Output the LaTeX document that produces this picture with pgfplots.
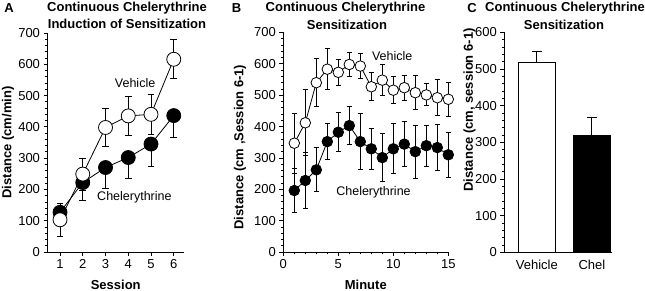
\documentclass[border=0pt]{standalone}
\usepackage{fontspec}
\setmainfont{Liberation Sans}
\usepackage{pgfplots}
\usepackage{pgfplotstable}
\pgfplotsset{compat=1.18}

\pgfplotstableread{
x y e
1 103 52
2 249 51
3 398 60
4 435 63
5 440 64
6 616 62
}\Aveh
\pgfplotstableread{
x y e
1 127 26
2 222 57
3 270 66
4 302 68
5 345 72
6 436 69
}\Achel
\pgfplotstableread{
x y e
1 347 95
2 412 105
3 540 77
4 583 65
5 573 41
6 598 39
7 593 40
8 527 44
9 548 50
10 516 43
11 524 40
12 508 54
13 501 35
14 492 58
15 487 55
}\Bveh
\pgfplotstableread{
x y e
1 196 71
2 228 90
3 262 70
4 352 58
5 382 62
6 403 61
7 352 89
8 329 65
9 301 77
10 329 80
11 344 72
12 320 85
13 339 65
14 333 73
15 310 72
}\Bchel
\pgfplotstableread{
x y e
0 518 31
}\Cveh
\pgfplotstableread{
x y e
1 319 49
}\Cchel

\newcommand\labfont{\fontsize{13}{13}\selectfont\bfseries}
\pgfplotsset{
  panel/.style={
    scale only axis,
    anchor=south west,
    clip=false,
    axis x line*=bottom,
    axis y line*=left,
    axis line style={-, line width=0.8pt},
    tick align=outside,
    tick style={line width=0.8pt, black},
    major tick length=4pt,
    minor tick length=2.5pt,
    ymin=0,
    /pgf/number format/assume math mode=true,
    tick label style={font=\fontsize{13}{13}\selectfont},
  },
  vehstyle/.style={black, line width=0.8pt, mark=*, mark options={fill=white, line width=0.8pt}},
  chelstyle/.style={black, line width=0.8pt, mark=*, mark options={fill=black}},
}

\begin{document}
\begin{tikzpicture}
\useasboundingbox (0,0) rectangle (645pt,291pt);

% Panel A
\begin{axis}[panel,
  at={(47.5pt,39pt)}, width=136.5pt, height=219pt,
  xmin=0.45, xmax=6.45, ymax=700,
  xtick={1,...,6}, ytick={0,100,...,700}, minor y tick num=4,
  xlabel={Session}, ylabel={Distance (cm/min)},
  every axis x label/.style={at={(axis description cs:0.5,-0.151)}, anchor=center, font=\labfont},
  every axis y label/.style={at={(axis description cs:-0.289,0.5)}, rotate=90, anchor=center, font=\labfont},
]
\addplot[chelstyle, mark size=7pt,
  error bars/.cd, y dir=minus, y explicit,
  error bar style={line width=0.9pt},
  error mark options={rotate=90, mark size=3.3pt, line width=0.9pt}]
  table[x=x, y=y, y error=e] {\Achel};
\addplot[vehstyle, mark size=7pt,
  error bars/.cd, y dir=both, y explicit,
  error bar style={line width=0.9pt},
  error mark options={rotate=90, mark size=3.3pt, line width=0.9pt}]
  table[x=x, y=y, y error=e] {\Aveh};
\node[font=\fontsize{12.5}{12.5}\selectfont] at (axis cs:4.30,541) {Vehicle};
\node[font=\fontsize{12.5}{12.5}\selectfont] at (axis cs:4.27,176) {Chelerythrine};
\end{axis}

% Panel B
\begin{axis}[panel,
  at={(283.3pt,39pt)}, width=165pt, height=219.5pt,
  xmin=0, xmax=15, ymax=700,
  xtick={0,5,10,15}, minor x tick num=4,
  ytick={0,100,...,700}, minor y tick num=4,
  xlabel={Minute}, ylabel={Distance (cm ,Session 6-1)},
  every axis x label/.style={at={(axis description cs:0.5,-0.150)}, anchor=center, font=\labfont},
  every axis y label/.style={at={(axis description cs:-0.262,0.478)}, rotate=90, anchor=center, font=\labfont},
]
\addplot[chelstyle, mark size=5.3pt,
  error bars/.cd, y dir=both, y explicit,
  error bar style={line width=0.9pt},
  error mark options={rotate=90, mark size=2.7pt, line width=0.9pt}]
  table[x=x, y=y, y error=e] {\Bchel};
\addplot[vehstyle, mark size=5.3pt,
  error bars/.cd, y dir=both, y explicit,
  error bar style={line width=0.9pt},
  error mark options={rotate=90, mark size=2.7pt, line width=0.9pt}]
  table[x=x, y=y, y error=e] {\Bveh};
\node[font=\fontsize{12.5}{12.5}\selectfont] at (axis cs:9.9,626) {Vehicle};
\node[font=\fontsize{12.5}{12.5}\selectfont] at (axis cs:8.2,189) {Chelerythrine};
\end{axis}

% Panel C
\begin{axis}[panel,
  at={(504.3pt,38.7pt)}, width=107.4pt, height=220pt,
  xmin=-0.59, xmax=1.36, ymax=600,
  xtick={0,1}, xticklabels={Vehicle,Chel},
  x tick style={draw=none},
  ytick={0,100,...,600}, minor y tick num=4,
  ylabel={Distance (cm, session 6-1)},
  every axis y label/.style={at={(axis description cs:-0.325,0.647)}, rotate=90, anchor=center, font=\labfont},
  ybar, bar width=36.7pt,
]
\addplot[draw=black, fill=white, line width=0.8pt, bar shift=0pt,
  error bars/.cd, y dir=plus, y explicit,
  error bar style={line width=0.9pt},
  error mark options={rotate=90, mark size=5pt, line width=0.9pt}]
  table[x=x, y=y, y error=e] {\Cveh};
\addplot[draw=black, fill=black, line width=0.8pt, bar shift=0pt,
  error bars/.cd, y dir=plus, y explicit,
  error bar style={line width=0.9pt},
  error mark options={rotate=90, mark size=5pt, line width=0.9pt}]
  table[x=x, y=y, y error=e] {\Cchel};
\end{axis}

% Titles and panel letters
\begin{scope}[font=\fontsize{13}{13}\selectfont\bfseries]
\node at (9pt,283pt) {A};
\node at (127pt,283pt) {Continuous Chelerythrine};
\node at (127pt,267pt) {Induction of Sensitization};
\node at (236.5pt,283pt) {B};
\node at (345.5pt,283pt) {Continuous Chelerythrine};
\node at (347pt,266pt) {Sensitization};
\node at (472pt,283pt) {C};
\node at (565pt,283pt) {Continuous Chelerythrine};
\node at (564pt,266pt) {Sensitization};
\end{scope}
\end{tikzpicture}
\end{document}
